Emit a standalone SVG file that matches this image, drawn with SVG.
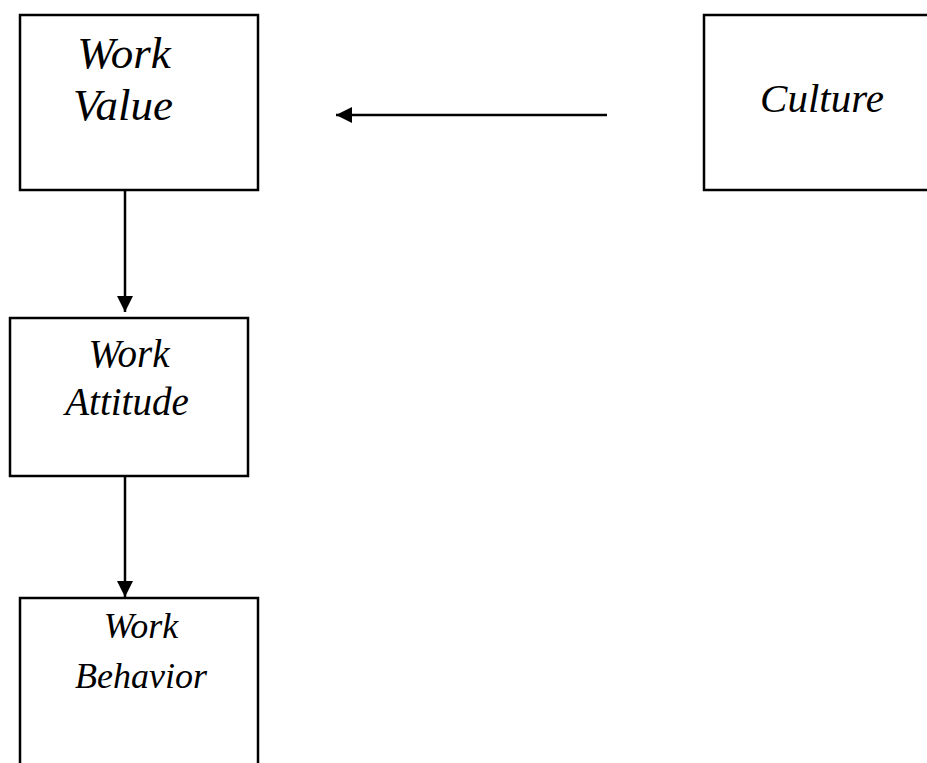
<svg xmlns="http://www.w3.org/2000/svg" width="927" height="763" viewBox="0 0 927 763">
<style>
.box{fill:#fff;stroke:#000;stroke-width:2.5}
.lbl{font-family:"Liberation Serif","Times New Roman",serif;font-style:italic;fill:#000;text-anchor:middle}
.conn{stroke:#000;stroke-width:2.5;fill:none}
</style>
<defs>
<marker id="ah" viewBox="0 0 16 16" refX="16" refY="8" markerWidth="16" markerHeight="16" markerUnits="userSpaceOnUse" orient="auto">
<path d="M0,0 L16,8 L0,16 Z" fill="#000"/>
</marker>
</defs>
<rect width="927" height="763" fill="#fff"/>
<g id="connectors">
<line class="conn" x1="607" y1="115" x2="336" y2="115" marker-end="url(#ah)"/>
<line class="conn" x1="125" y1="191" x2="125" y2="312" marker-end="url(#ah)"/>
<line class="conn" x1="125" y1="477" x2="125" y2="597" marker-end="url(#ah)"/>
</g>
<g id="work-value">
<rect class="box" x="20" y="15" width="238" height="175"/>
<text class="lbl" x="124" y="68" font-size="45">Work</text>
<text class="lbl" x="123" y="120" font-size="45">Value</text>
</g>
<g id="culture">
<rect class="box" x="704" y="15" width="240" height="175"/>
<text class="lbl" x="822" y="112" font-size="41">Culture</text>
</g>
<g id="work-attitude">
<rect class="box" x="10" y="318" width="238" height="158"/>
<text class="lbl" x="129" y="367" font-size="39">Work</text>
<text class="lbl" x="127" y="415" font-size="39">Attitude</text>
</g>
<g id="work-behavior">
<rect class="box" x="20" y="598" width="238" height="200"/>
<text class="lbl" x="141" y="638" font-size="36">Work</text>
<text class="lbl" x="141" y="688" font-size="36">Behavior</text>
</g>
</svg>
